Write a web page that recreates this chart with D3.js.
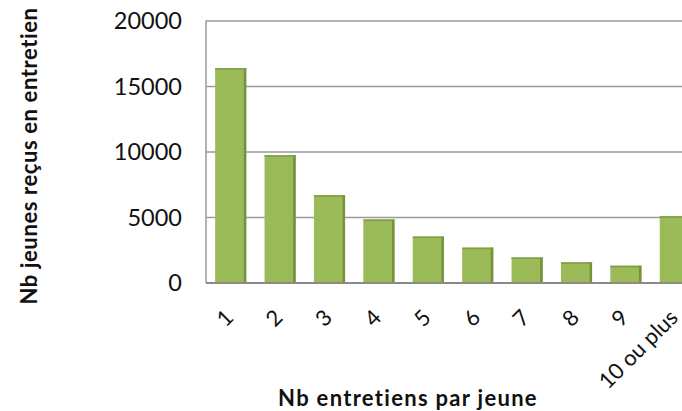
<!DOCTYPE html>
<html><head><meta charset="utf-8">
<script src="https://cdn.jsdelivr.net/npm/d3@7"></script>
<style>html,body{margin:0;padding:0;background:#fff;overflow:hidden}</style>
</head><body>
<svg id="chart" width="682" height="411"></svg>
<script>
const categories = ["1","2","3","4","5","6","7","8","9","10 ou plus"];
const values = [16400, 9750, 6700, 4850, 3550, 2700, 1950, 1580, 1320, 5100];
const yTicks = [0, 5000, 10000, 15000, 20000];
const yTitle = "Nb jeunes reçus en entretien";
const xTitle = "Nb entretiens par jeune";

(function () {
const svg = d3.select("#chart");
const font = "Lato, 'Open Sans', sans-serif";
const pLeft = 206, pRight = 700, pTop = 21, pBottom = 283;

const x = d3.scaleBand().domain(categories).range([pLeft, pRight]).paddingInner(0.37).paddingOuter(0.185);
const y = d3.scaleLinear().domain([0, 20000]).range([pBottom, pTop]);

// gridlines
svg.append("g").selectAll("line").data(yTicks.filter(d => d > 0)).join("line")
  .attr("x1", pLeft).attr("x2", 682).attr("y1", d => y(d)).attr("y2", d => y(d))
  .attr("stroke", "#9a9a9a").attr("stroke-width", 1.5);

// left axis line
svg.append("line").attr("x1", pLeft).attr("x2", pLeft).attr("y1", pTop - 0.5).attr("y2", pBottom)
  .attr("stroke", "#9a9a9a").attr("stroke-width", 1.5);

// y tick labels
const yAxis = d3.axisLeft(y).tickValues(yTicks).tickSize(0).tickPadding(24).tickFormat(d3.format("d"));
const gy = svg.append("g").attr("transform", `translate(${pLeft},0)`).call(yAxis);
gy.select(".domain").remove();
gy.selectAll("text").attr("font-family", font).attr("font-size", 23.5).attr("fill", "#111");

// bars
const bars = svg.append("g").selectAll("g").data(categories.map((c, i) => ({c, v: values[i]}))).join("g");
bars.append("rect")
  .attr("x", d => x(d.c)).attr("y", d => y(d.v))
  .attr("width", x.bandwidth()).attr("height", d => y(0) - y(d.v))
  .attr("fill", "#9bbb59");
bars.append("rect")
  .attr("x", d => x(d.c) + x.bandwidth() - 2.5).attr("y", d => y(d.v))
  .attr("width", 2.5).attr("height", d => y(0) - y(d.v))
  .attr("fill", "#76923c");
bars.append("rect")
  .attr("x", d => x(d.c)).attr("y", d => y(d.v))
  .attr("width", x.bandwidth()).attr("height", 1.5)
  .attr("fill", "#7f9c47");

// bottom axis line
svg.append("line").attr("x1", pLeft).attr("x2", 682).attr("y1", pBottom).attr("y2", pBottom)
  .attr("stroke", "#8a8a8a").attr("stroke-width", 2);

// x tick labels
const xAxis = d3.axisBottom(x).tickSize(0).tickPadding(0);
const gx = svg.append("g").attr("transform", `translate(0,${pBottom})`).call(xAxis);
gx.select(".domain").remove();
gx.selectAll("text")
  .attr("font-family", font).attr("font-size", 22).attr("fill", "#111")
  .attr("text-anchor", "end").attr("dy", null).attr("y", 0)
  .attr("transform", "translate(4,36) rotate(-45)");

// titles
svg.append("text").attr("x", 408).attr("y", 406)
  .attr("text-anchor", "middle").attr("font-family", font).attr("font-weight", "bold")
  .attr("font-size", 22).attr("letter-spacing", 1.3).attr("fill", "#111").text(xTitle);
svg.append("text").attr("transform", "translate(37,156) rotate(-90)")
  .attr("text-anchor", "middle").attr("font-family", font).attr("font-weight", "bold")
  .attr("font-size", 22).attr("letter-spacing", 0.6).attr("fill", "#111").text(yTitle);
})();
</script>
</body></html>
